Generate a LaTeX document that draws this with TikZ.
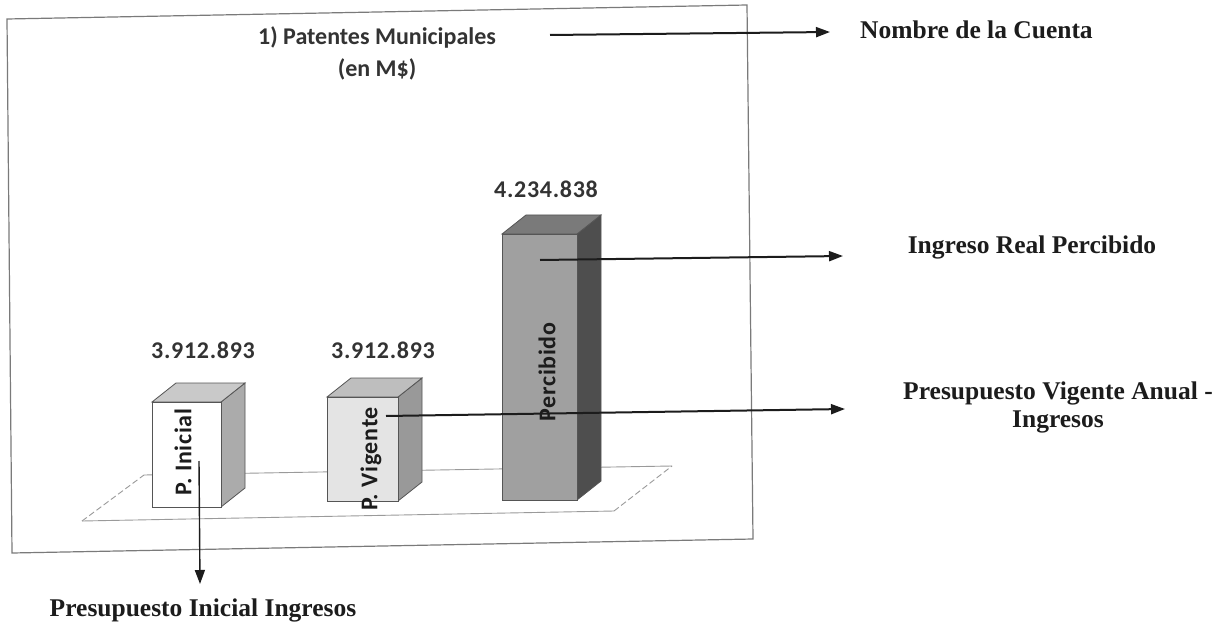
\documentclass[tikz,border=0pt]{standalone}
\usepackage{fontspec}
\setmainfont{Liberation Serif}
\newfontfamily\chartfont{Carlito}[LetterSpace=3]
\newfontfamily\titlefont{Carlito}
\usetikzlibrary{arrows.meta}
\definecolor{ink}{HTML}{1C1C1C}
\definecolor{framegray}{HTML}{7A7A7A}
\definecolor{floorgray}{HTML}{9A9A9A}
\definecolor{edgegray}{HTML}{555555}
\definecolor{iniFront}{HTML}{FFFFFF}
\definecolor{iniTop}{HTML}{C9C9C9}
\definecolor{iniSide}{HTML}{ABABAB}
\definecolor{vigFront}{HTML}{E4E4E4}
\definecolor{vigTop}{HTML}{BEBEBE}
\definecolor{vigSide}{HTML}{999999}
\definecolor{perFront}{HTML}{A0A0A0}
\definecolor{perTop}{HTML}{7A7A7A}
\definecolor{perSide}{HTML}{4E4E4E}
% #1 x left, #2 x right, #3 y top, #4 y bottom, #5 front, #6 top, #7 side
\newcommand\drawbox[7]{%
  \filldraw[#7, draw=edgegray, line width=0.8pt] (#2,#3) -- ++(24,-19) -- ++(0,#4-#3) -- (#2,#4) -- cycle;
  \filldraw[#6, draw=edgegray, line width=0.8pt] (#1,#3) -- ++(24,-19) -- ++(#2-#1,0) -- (#2,#3) -- cycle;
  \filldraw[#5, draw=edgegray, line width=0.8pt] (#1,#3) rectangle (#2,#4);
}
\begin{document}
\begin{tikzpicture}[x=1pt,y=-1pt,
  frameline/.style={draw=framegray, line width=1.2pt},
  floorline/.style={draw=floorgray, line width=0.9pt},
  floorside/.style={draw=floorgray, line width=0.9pt, dash pattern=on 6pt off 3pt},
  pointer/.style={draw=ink, line width=2pt, -{Triangle[length=14pt,width=10pt]}},
  thinpointer/.style={draw=ink, line width=1.4pt, -{Triangle[length=14pt,width=10pt]}},
  numlabel/.style={font=\chartfont\bfseries\fontsize{24}{28}\selectfont, text=ink!90, inner sep=0pt},
  titlelabel/.style={font=\titlefont\bfseries\fontsize{24}{30}\selectfont, text=ink!90, inner sep=0pt, align=center},
  barlabel/.style={font=\chartfont\bfseries\fontsize{24}{28}\selectfont, text=ink, inner sep=0pt, rotate=90},
  notelabel/.style={font=\bfseries\fontsize{25.5}{28}\selectfont, text=ink, inner sep=0pt, align=center},
]
\useasboundingbox (0,0) rectangle (1231,631);
\fill[white] (0,0) rectangle (1231,631);

% chart frame (slightly rotated scan)
\draw[frameline] (7,19) -- (747,5) -- (753,539) -- (12,553) -- cycle;

% floor plane
\draw[floorline] (144,475) -- (672,466);
\draw[floorline] (82,521) -- (614,511);
\draw[floorside] (82,521) -- (144,475);
\draw[floorside] (614,511) -- (672,466);

% bars
\drawbox{152}{221}{402}{507}{iniFront}{iniTop}{iniSide}
\drawbox{327}{398}{397}{501}{vigFront}{vigTop}{vigSide}
\drawbox{502}{577}{234}{500}{perFront}{perTop}{perSide}

% bar labels
\node[barlabel] (lini) at (183,452) {P. Inicial};
\node[barlabel] (lvig) at (371,459) {P. Vigente};
\node[barlabel] (lper) at (547,372) {Percibido};

% values
\node[numlabel] (vini) at (203,350) {3.912.893};
\node[numlabel] (vvig) at (383,350) {3.912.893};
\node[numlabel] (vper) at (546,189) {4.234.838};

% title
\node[titlelabel] (title) at (377,37) {1) Patentes Municipales};
\node[titlelabel] (title2) at (377,69) {(en M\$)};

% explanatory labels
\node[notelabel, anchor=west] (nname) at (860,30) {Nombre de la Cuenta};
\node[notelabel] (nreal) at (1032,247) {Ingreso Real Percibido};
\node[notelabel] (nvig) at (1058,407) {Presupuesto Vigente Anual -\\Ingresos};
\node[notelabel] (nini) at (203,610) {Presupuesto Inicial Ingresos};

% connector ends
\coordinate (sT) at (550,35);
\coordinate (eT) at (830,32);
\coordinate (sP) at (540,260);
\coordinate (eP) at (843,256);
\coordinate (sV) at (386,416);
\coordinate (eV) at (845,409);
\coordinate (sI) at (199,461);
\coordinate (eI) at (200,584);

\draw[pointer] (sT) -- (eT);
\draw[pointer] (sP) -- (eP);
\draw[pointer] (sV) -- (eV);
\draw[thinpointer] (sI) -- (eI);
\end{tikzpicture}
\end{document}
